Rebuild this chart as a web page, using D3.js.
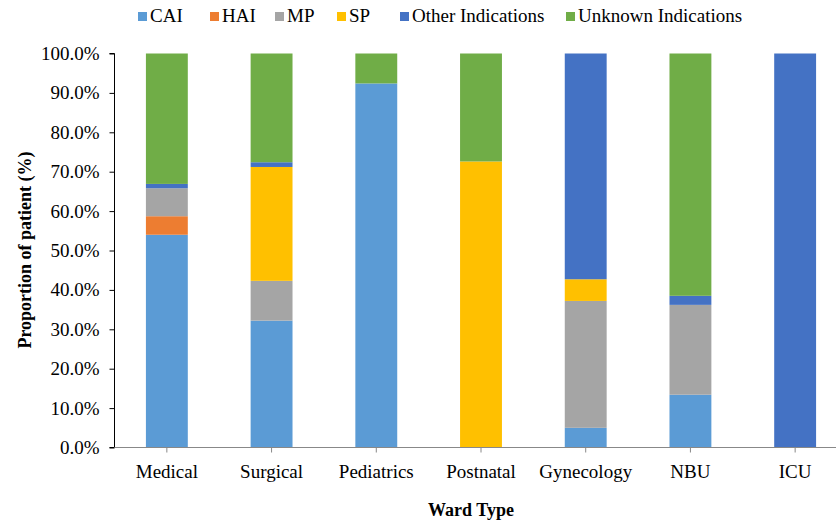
<!DOCTYPE html>
<html>
<head>
<meta charset="utf-8">
<script src="https://cdn.jsdelivr.net/npm/d3@7"></script>
<style>
  html, body { margin: 0; padding: 0; background: #fff; }
  svg { display: block; }
  svg text { font-family: "Liberation Serif", "Times New Roman", serif; fill: #000; }
</style>
</head>
<body>
<svg id="chart" width="836" height="523"></svg>
<script>
const categories = ["Medical", "Surgical", "Pediatrics", "Postnatal", "Gynecology", "NBU", "ICU"];
const seriesNames = ["CAI", "HAI", "MP", "SP", "Other Indications", "Unknown Indications"];
const CAI     = [54.0, 32.2, 92.4, 0,    5.0,  13.4, 0];
const HAI     = [4.7,  0,    0,    0,    0,    0,    0];
const MP      = [7.1,  10.1, 0,    0,    32.2, 22.8, 0];
const SP      = [0,    28.9, 0,    72.6, 5.5,  0,    0];
const Other   = [1.1,  1.2,  0,    0,    57.3, 2.3,  100];
const Unknown = [33.1, 27.6, 7.6,  27.4, 0,    61.5, 0];
const yTicks = [0, 10, 20, 30, 40, 50, 60, 70, 80, 90, 100];
const colors = ["#5B9BD5", "#ED7D31", "#A5A5A5", "#FFC000", "#4472C4", "#70AD47"];

const seriesValues = [CAI, HAI, MP, SP, Other, Unknown];
const rows = categories.map((c, i) => {
  const r = { cat: c };
  seriesNames.forEach((s, j) => r[s] = seriesValues[j][i]);
  return r;
});

const svg = d3.select("#chart");
const mLeft = 114.5, mRight = 847.5, mTop = 53.5, mBottom = 447.5;

const x = d3.scaleBand().domain(categories).range([mLeft, mRight]).paddingInner(0.6).paddingOuter(0.3);
const y = d3.scaleLinear().domain([0, 100]).range([mBottom, mTop]);
const color = d3.scaleOrdinal().domain(seriesNames).range(colors);

const stacked = d3.stack().keys(seriesNames)(rows);

svg.append("g").selectAll("g").data(stacked).join("g")
  .attr("fill", d => color(d.key))
  .selectAll("rect").data(d => d).join("rect")
  .attr("x", d => x(d.data.cat))
  .attr("width", x.bandwidth())
  .attr("y", d => y(d[1]))
  .attr("height", d => Math.max(0, y(d[0]) - y(d[1])));

// Y axis
const yAxis = svg.append("g").attr("transform", `translate(${mLeft},0)`)
  .call(d3.axisLeft(y).tickValues(yTicks).tickSize(5).tickPadding(10).tickFormat(d => d.toFixed(1) + "%"));
yAxis.attr("font-family", null).attr("font-size", null);
yAxis.select(".domain").attr("stroke", "#000").attr("d", `M-5,${mBottom}H0V${mTop}H-5`);
yAxis.selectAll(".tick line").attr("stroke", "#000");
yAxis.selectAll("text").style("font-size", "19px");

// X axis
const xAxis = svg.append("g").attr("transform", `translate(0,${mBottom})`)
  .call(d3.axisBottom(x).tickSize(5).tickPadding(12));
xAxis.attr("font-family", null).attr("font-size", null);
xAxis.select(".domain").attr("stroke", "#888").attr("d", `M${mLeft},0H836`);
xAxis.selectAll(".tick line").attr("stroke", "#888");
xAxis.selectAll("text").style("font-size", "19px");

// Axis titles
svg.append("text").attr("x", 471).attr("y", 516).attr("text-anchor", "middle")
  .style("font-size", "18px").attr("font-weight", "bold").text("Ward Type");
svg.append("text").attr("transform", "translate(31,250) rotate(-90)").attr("text-anchor", "middle")
  .style("font-size", "18px").attr("font-weight", "bold").text("Proportion of patient (%)");

// Legend
const legendX = [138, 210, 275, 337, 400, 566];
const lg = svg.append("g").selectAll("g").data(seriesNames).join("g")
  .attr("transform", (d, i) => `translate(${legendX[i]},12)`);
lg.append("rect").attr("width", 9).attr("height", 9).attr("fill", d => color(d));
lg.append("text").attr("x", 12).attr("y", 10).style("font-size", "19px").text(d => d);
</script>
</body>
</html>
